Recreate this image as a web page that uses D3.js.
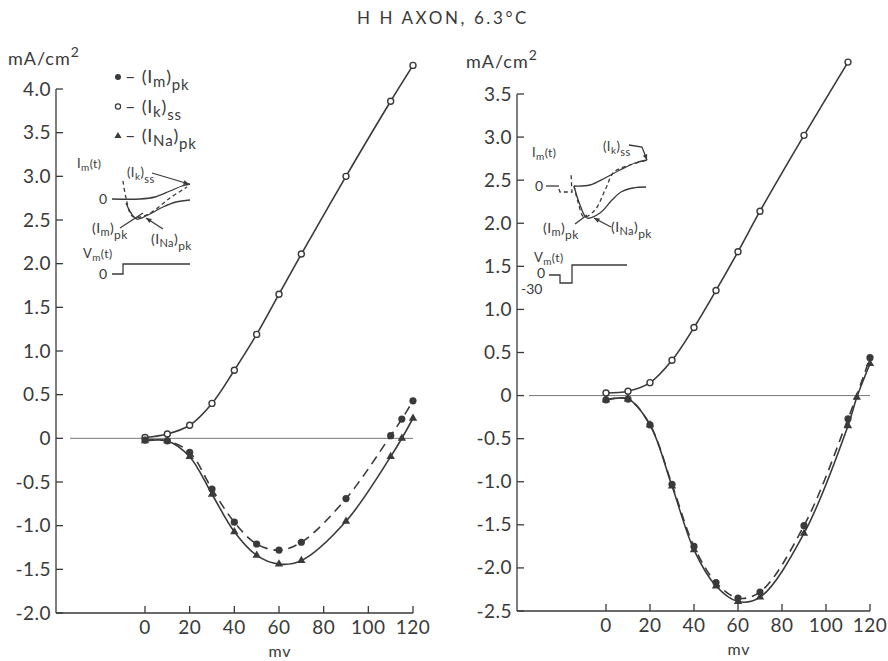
<!DOCTYPE html>
<html><head><meta charset="utf-8">
<script src="https://cdn.jsdelivr.net/npm/d3@7"></script>
<style>
body{margin:0;background:#fff;}
text{font-family:Lato,"DejaVu Sans",sans-serif;fill:#3a3a3a;}
</style></head>
<body><svg id="c" width="888" height="661"></svg>
<script>
// ---------- data ----------
const title = "H H AXON, 6.3°C";
const xTicks = [0,20,40,60,80,100,120];
const leftYTicks = [4.0,3.5,3.0,2.5,2.0,1.5,1.0,0.5,0,-0.5,-1.0,-1.5,-2.0];
const rightYTicks = [3.5,3.0,2.5,2.0,1.5,1.0,0.5,0,-0.5,-1.0,-1.5,-2.0,-2.5];

// left panel (mV, mA/cm2)
const leftIkMv  = [0,10,20,30,40,50,60,70,90,110,120];
const leftIkVal = [0.01,0.05,0.15,0.40,0.78,1.19,1.65,2.11,3.00,3.86,4.27];
const leftImMv  = [0,10,20,30,40,50,60,70,90,110,115,120];
const leftImVal = [-0.02,-0.03,-0.16,-0.58,-0.96,-1.21,-1.28,-1.19,-0.69,0.03,0.22,0.43];
const leftNaMv  = [0,10,20,30,40,50,60,70,90,110,115,120];
const leftNaVal = [-0.03,-0.03,-0.21,-0.64,-1.07,-1.34,-1.44,-1.40,-0.95,-0.21,0.00,0.23];

// right panel
const rightIkMv  = [0,10,20,30,40,50,60,70,90,110];
const rightIkVal = [0.03,0.05,0.15,0.41,0.79,1.22,1.67,2.14,3.02,3.87];
const rightImMv  = [0,10,20,30,40,50,60,70,90,110,120];
const rightImVal = [-0.05,-0.04,-0.34,-1.03,-1.75,-2.17,-2.35,-2.28,-1.51,-0.27,0.44];
const rightNaMv  = [0,10,20,30,40,50,60,70,90,110,114,120];
const rightNaVal = [-0.05,-0.04,-0.34,-1.05,-1.79,-2.21,-2.39,-2.34,-1.60,-0.35,-0.02,0.37];

// schematic insets (local sketch coordinates, not data)
const inL = {
  upper:[[112,199],[140,199],[155,197],[170,191],[182,186],[190,184]],
  dashed:[[123,181],[126,198],[132,216],[140,217],[152,212],[170,198],[187,187]],
  lower:[[126,203],[131,213],[137,219],[148,215],[163,207],[176,202],[190,200]],
  step:[[112,274],[123,274],[123,264],[190,264]],
  leadIk:[[152,173],[189,184]], leadIm:[[120,228],[143,213]], leadNa:[[163,229],[146,218]]
};
const inR = {
  zero:[[546,186],[559,186]],
  dip:[[559,189],[560,192],[572,192],[571,173]],
  upper:[[574,186],[590,185],[605,178],[620,170],[635,163],[647,160]],
  dashed:[[574,186],[578,202],[584,217],[595,210],[606,188],[614,172],[630,165],[647,160]],
  lower:[[574,186],[580,205],[587,218],[600,213],[612,200],[621,192],[633,188],[646,187]],
  step:[[549,275],[560,275],[560,283],[572,283],[572,265],[627,265]],
  leadIk:[[629,145],[642,147],[647,160]], leadIm:[[575,224],[587,215]], leadNa:[[611,227],[594,218]]
};

// ---------- drawing ----------
const svg = d3.select("#c");
const ink = "#3a3a3a";
svg.append("text").attr("x",443).attr("y",24).attr("text-anchor","middle")
  .attr("font-size",17).attr("letter-spacing","2.6px").text(title);

function fmt(v){ return v===0 ? "0" : (v<0?"-":"")+Math.abs(v).toFixed(1); }

function panel(cfg){
  const g = svg.append("g");
  const x = d3.scaleLinear().domain([0,120]).range(cfg.xr);
  const y = d3.scaleLinear().domain(cfg.yd).range(cfg.yr);
  const y0 = cfg.yr[0];
  g.append("line").attr("x1",cfg.ax).attr("x2",cfg.ax).attr("y1",cfg.yr[1]).attr("y2",y0)
    .attr("stroke",ink).attr("stroke-width",1.3);
  g.append("line").attr("x1",cfg.ax).attr("x2",x(120)).attr("y1",y0).attr("y2",y0)
    .attr("stroke",ink).attr("stroke-width",1.3);
  cfg.yt.forEach(v=>{
    g.append("line").attr("x1",cfg.ax).attr("x2",cfg.ax+7).attr("y1",y(v)).attr("y2",y(v))
      .attr("stroke",ink).attr("stroke-width",1.3);
    g.append("text").attr("x",cfg.ax-5).attr("y",y(v)+6.5).attr("text-anchor","end")
      .attr("font-size",19).attr("letter-spacing","0.5px").text(fmt(v));
  });
  xTicks.forEach(v=>{
    g.append("line").attr("x1",x(v)).attr("x2",x(v)).attr("y1",y0).attr("y2",y0-7)
      .attr("stroke",ink).attr("stroke-width",1.3);
    g.append("text").attr("x",x(v)).attr("y",y0+21).attr("text-anchor","middle")
      .attr("font-size",19).attr("letter-spacing","0.5px").text(v);
  });
  g.append("text").attr("x",(x(0)+x(120))/2+1).attr("y",y0+44).attr("text-anchor","middle")
    .attr("font-size",16).attr("letter-spacing","1px").text("mv");
  const ul = g.append("text").attr("x",cfg.ulx).attr("y",cfg.uly).attr("font-size",18).attr("letter-spacing","1px");
  ul.append("tspan").text("mA/cm");
  ul.append("tspan").attr("dy",-8).attr("font-size",14).text("2");
  g.append("line").attr("x1",cfg.zx).attr("x2",x(120)).attr("y1",y(0)).attr("y2",y(0))
    .attr("stroke","#777").attr("stroke-width",1);
  const line = d3.line().x(d=>x(d[0])).y(d=>y(d[1])).curve(d3.curveCatmullRom.alpha(0.5));
  const zip=(a,b)=>a.map((m,i)=>[m,b[i]]);
  const ik=zip(cfg.ik[0],cfg.ik[1]), im=zip(cfg.im[0],cfg.im[1]), na=zip(cfg.na[0],cfg.na[1]);
  g.append("path").attr("d",line(ik)).attr("fill","none").attr("stroke",ink).attr("stroke-width",1.6);
  g.append("path").attr("d",line(na)).attr("fill","none").attr("stroke",ink).attr("stroke-width",1.6);
  g.append("path").attr("d",line(im)).attr("fill","none").attr("stroke",ink).attr("stroke-width",1.6)
    .attr("stroke-dasharray","9,6");
  g.selectAll(".ik").data(ik).join("circle").attr("cx",d=>x(d[0])).attr("cy",d=>y(d[1])).attr("r",3)
    .attr("fill","#fff").attr("stroke",ink).attr("stroke-width",1.4);
  const tri = d3.symbol().type(d3.symbolTriangle).size(30);
  g.selectAll(".na").data(na).join("path").attr("d",tri)
    .attr("transform",d=>`translate(${x(d[0])},${y(d[1])})`).attr("fill",ink);
  g.selectAll(".im").data(im).join("circle").attr("cx",d=>x(d[0])).attr("cy",d=>y(d[1])).attr("r",3.6)
    .attr("fill",ink);
}

panel({xr:[145,413], yd:[-2,4], yr:[613,89], ax:56, yt:leftYTicks, zx:70, ulx:8, uly:65,
  ik:[leftIkMv,leftIkVal], im:[leftImMv,leftImVal], na:[leftNaMv,leftNaVal]});
panel({xr:[606,870], yd:[-2.5,3.5], yr:[611,94], ax:517, yt:rightYTicks, zx:529, ulx:466, uly:68,
  ik:[rightIkMv,rightIkVal], im:[rightImMv,rightImVal], na:[rightNaMv,rightNaVal]});

// legend
const lg = svg.append("g");
const legendRows = [["m","pk","dot"],["k","ss","open"],["Na","pk","tri"]];
legendRows.forEach((r,i)=>{
  const cy = 77 + i*29.5;
  if(r[2]==="dot") lg.append("circle").attr("cx",118).attr("cy",cy).attr("r",3).attr("fill",ink);
  if(r[2]==="open") lg.append("circle").attr("cx",118).attr("cy",cy).attr("r",2.6).attr("fill","#fff").attr("stroke",ink).attr("stroke-width",1.2);
  if(r[2]==="tri") lg.append("path").attr("d",d3.symbol().type(d3.symbolTriangle).size(22)).attr("transform",`translate(118,${cy})`).attr("fill",ink);
  const t = lg.append("text").attr("x",125).attr("y",cy+6).attr("font-size",18).attr("letter-spacing","0.8px");
  t.append("tspan").text("– (I");
  t.append("tspan").attr("dy",4).attr("font-size",15).text(r[0]);
  t.append("tspan").attr("dy",-4).text(")");
  t.append("tspan").attr("dy",7).attr("font-size",15).text(r[1]);
});

// inset sketches
function sub(g,xx,yy,parts,fs){
  const t=g.append("text").attr("x",xx).attr("y",yy).attr("font-size",fs).attr("letter-spacing","0.4px");
  parts.forEach(p=>{ const s=t.append("tspan").text(p[0]); if(p[1]) s.attr("dy",p[1]); if(p[2]) s.attr("font-size",p[2]); });
}
const sk = d3.line().curve(d3.curveCatmullRom.alpha(0.5));
const lin = d3.line();
function inset(ins, labels, g){
  Object.entries(ins).forEach(([k,pts])=>{
    const curved = (k==="upper"||k==="dashed"||k==="lower");
    const p = g.append("path").attr("d",(curved?sk:lin)(pts)).attr("fill","none")
      .attr("stroke",ink).attr("stroke-width",1.3);
    if(k==="dashed"||k==="dip") p.attr("stroke-dasharray","4,3");
  });
  [ins.leadIk, ins.leadNa].forEach(pts=>{
    const a=pts[pts.length-2], b=pts[pts.length-1];
    const ang=Math.atan2(b[1]-a[1],b[0]-a[0]);
    const L=6, w=0.4;
    const p1=[b[0]-L*Math.cos(ang-w), b[1]-L*Math.sin(ang-w)];
    const p2=[b[0]-L*Math.cos(ang+w), b[1]-L*Math.sin(ang+w)];
    g.append("path").attr("d",`M${b}L${p1}L${p2}Z`).attr("fill",ink);
  });
  labels(g);
}
const gl = svg.append("g");
inset(inL, g=>{
  sub(g,77,168,[["I"],["m",3,10],["(t)",-3,12]],13);
  sub(g,127,177,[["(I"],["k",3,10],[")",-3],["ss",6,11]],13);
  g.append("text").attr("x",103).attr("y",204).attr("text-anchor","middle").attr("font-size",14).text("0");
  sub(g,92,233,[["(I"],["m",3,11],[")",-3],["pk",6,12]],14);
  sub(g,151,244,[["(I"],["Na",3,11],[")",-3],["pk",6,12]],14);
  sub(g,83,258,[["V"],["m",3,10],["(t)",-3,12]],13);
  g.append("text").attr("x",103).attr("y",279).attr("text-anchor","middle").attr("font-size",14).text("0");
}, gl);
const gr = svg.append("g");
inset(inR, g=>{
  sub(g,532,157,[["I"],["m",3,10],["(t)",-3,12]],13);
  sub(g,603,151,[["(I"],["k",3,10],[")",-3],["ss",5,11]],13);
  g.append("text").attr("x",539).attr("y",191).attr("text-anchor","middle").attr("font-size",14).text("0");
  sub(g,543,233,[["(I"],["m",3,11],[")",-3],["pk",6,12]],14);
  sub(g,611,232,[["(I"],["Na",3,11],[")",-3],["pk",6,12]],14);
  sub(g,534,262,[["V"],["m",3,10],["(t)",-3,12]],13);
  g.append("text").attr("x",541).attr("y",278).attr("text-anchor","middle").attr("font-size",14).text("0");
  g.append("text").attr("x",521).attr("y",294).attr("font-size",14).text("-30");
}, gr);
</script></body></html>
